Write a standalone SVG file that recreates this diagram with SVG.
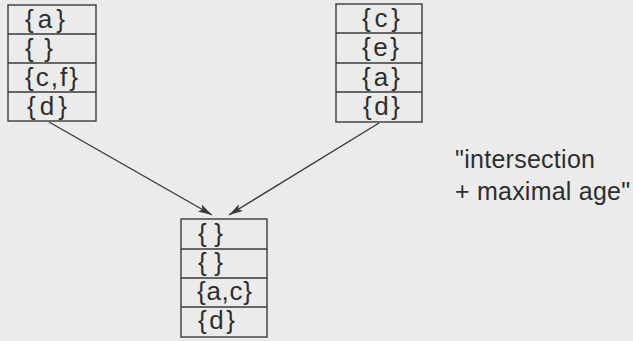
<svg xmlns="http://www.w3.org/2000/svg" width="633" height="341" viewBox="0 0 633 341">
<style>
.box{fill:none;stroke:#3a3a3a;stroke-width:1.4}
.t{font-family:"Liberation Sans",Arial,sans-serif;font-size:26px;fill:#2e2e2e}
.lbl{font-family:"Liberation Sans",Arial,sans-serif;font-size:25px;fill:#2e2e2e}
.c{stroke:#3a3a3a;stroke-width:1.4;fill:none}
</style>
<defs>
<marker id="ah" viewBox="0 0 14 8" refX="14" refY="4" markerWidth="14" markerHeight="8" markerUnits="userSpaceOnUse" orient="auto">
<path d="M0,0 L14,4 L0,8 L3,4 Z" fill="#3a3a3a"/>
</marker>
</defs>
<rect x="0" y="0" width="633" height="341" fill="#ebebeb"/>
<g id="stack-left">
<rect class="box" x="8" y="5" width="88" height="116"/>
<line class="box" x1="8" y1="34" x2="96" y2="34"/>
<line class="box" x1="8" y1="63" x2="96" y2="63"/>
<line class="box" x1="8" y1="92" x2="96" y2="92"/>
<text class="t" x="25" y="28" textLength="40" lengthAdjust="spacing">{a}</text>
<text class="t" x="25" y="57" textLength="28" lengthAdjust="spacing">{ }</text>
<text class="t" x="25" y="86" textLength="53" lengthAdjust="spacing">{c,f}</text>
<text class="t" x="27" y="115" textLength="40" lengthAdjust="spacing">{d}</text>
</g>
<g id="stack-right">
<rect class="box" x="336" y="4" width="86" height="118"/>
<line class="box" x1="336" y1="33" x2="422" y2="33"/>
<line class="box" x1="336" y1="63" x2="422" y2="63"/>
<line class="box" x1="336" y1="92" x2="422" y2="92"/>
<text class="t" x="362" y="27" textLength="38" lengthAdjust="spacing">{c}</text>
<text class="t" x="362" y="56" textLength="37" lengthAdjust="spacing">{e}</text>
<text class="t" x="362" y="86" textLength="38" lengthAdjust="spacing">{a}</text>
<text class="t" x="363" y="115" textLength="37" lengthAdjust="spacing">{d}</text>
</g>
<g id="stack-result">
<rect class="box" x="181" y="219" width="86" height="118"/>
<line class="box" x1="181" y1="249" x2="267" y2="249"/>
<line class="box" x1="181" y1="278" x2="267" y2="278"/>
<line class="box" x1="181" y1="307" x2="267" y2="307"/>
<text class="t" x="198" y="242" textLength="25" lengthAdjust="spacing">{ }</text>
<text class="t" x="198" y="271" textLength="25" lengthAdjust="spacing">{ }</text>
<text class="t" x="197" y="300" textLength="55" lengthAdjust="spacing">{a,c}</text>
<text class="t" x="198" y="329" textLength="37" lengthAdjust="spacing">{d}</text>
</g>
<g id="connectors">
<line class="c" x1="49" y1="122" x2="212" y2="215" marker-end="url(#ah)"/>
<line class="c" x1="379" y1="123" x2="229" y2="215" marker-end="url(#ah)"/>
</g>
<g id="label">
<text class="lbl" x="455" y="168" textLength="140" lengthAdjust="spacing">"intersection</text>
<text class="lbl" x="455" y="200" textLength="175" lengthAdjust="spacing">+ maximal age"</text>
</g>
</svg>
